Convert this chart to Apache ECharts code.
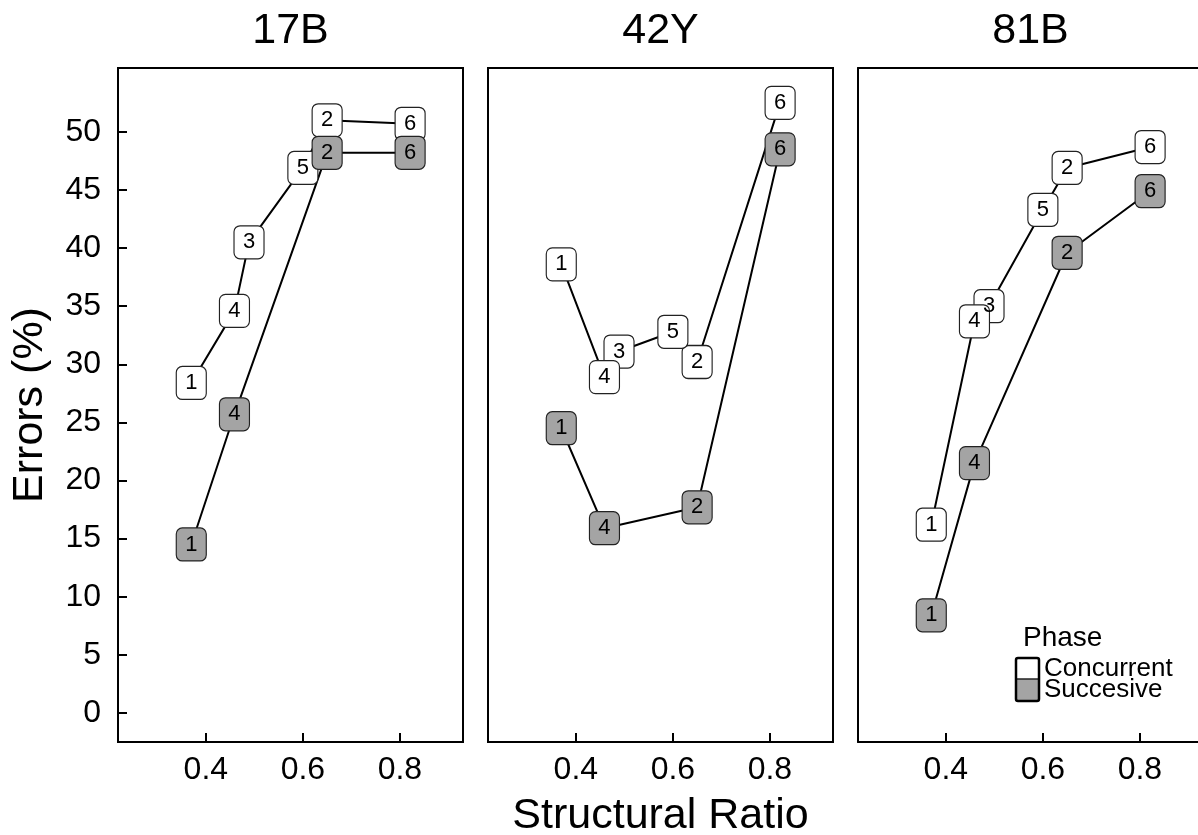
<!DOCTYPE html>
<html>
<head>
    <meta charset="UTF-8">
    <script src="https://cdn.jsdelivr.net/npm/echarts@6/dist/echarts.min.js"></script>
    <style>
        html, body { margin: 0; padding: 0; background: #fff; }
        #container { width: 1198px; height: 835px; }
    </style>
</head>
<body>
<div id="container"></div>

<script type="text/javascript">
    // structural ratio of each phase (phase number -> x)
    var phaseRatio = {1: 0.370, 2: 0.650, 3: 0.489, 4: 0.459, 5: 0.600, 6: 0.821};

    var panels = ['17B', '42Y', '81B'];

    var concurrentPhases = [1, 2, 3, 4, 5, 6];
    var concurrent17B = [28.4, 51.0, 40.5, 34.6, 46.9, 50.7];
    var concurrent42Y = [38.6, 30.2, 31.1, 28.9, 32.8, 52.5];
    var concurrent81B = [16.2, 46.9, 35.0, 33.7, 43.3, 48.7];

    var succesivePhases = [1, 2, 4, 6];
    var succesive17B = [14.5, 48.2, 25.7, 48.2];
    var succesive42Y = [24.5, 17.7, 15.9, 48.5];
    var succesive81B = [8.4, 39.6, 21.5, 44.9];

    var xTicks = [0.4, 0.6, 0.8];
    var yTicks = [0, 5, 10, 15, 20, 25, 30, 35, 40, 45, 50];

    var FONT = '"Liberation Sans", Arial, sans-serif';
    var GREY = '#a4a4a4';
    // rounded box used as the point symbol
    var BOX = 'path://M6,0H24A6,6 0 0 1 30,6V27A6,6 0 0 1 24,33H6A6,6 0 0 1 0,27V6A6,6 0 0 1 6,0Z';

    var concurrentByPanel = [concurrent17B, concurrent42Y, concurrent81B];
    var succesiveByPanel = [succesive17B, succesive42Y, succesive81B];

    var dom = document.getElementById('container');
    var myChart = echarts.init(dom, null, {renderer: 'canvas'});

    var gridLeft = [118, 488, 858];
    var grids = [], xAxes = [], yAxes = [], series = [];

    function points(phases, values) {
        return phases.map(function (p, i) {
            return [phaseRatio[p], values[i], p];
        });
    }

    function boxSeries(k, name, data, fill, z) {
        return {
            type: 'scatter',
            name: name,
            xAxisIndex: k, yAxisIndex: k,
            data: data,
            symbol: BOX,
            symbolSize: [30, 33],
            itemStyle: {color: fill, borderColor: '#222', borderWidth: 1.2, opacity: 1},
            label: {
                show: true,
                position: 'inside',
                formatter: function (p) { return String(p.data[2]); },
                fontFamily: FONT,
                fontSize: 22,
                color: '#000'
            },
            emphasis: {disabled: true},
            z: z
        };
    }

    panels.forEach(function (name, k) {
        // the last panel runs past the right edge, so its frame is drawn by axis lines only
        grids.push({
            left: gridLeft[k], top: 68, width: 345, height: 674,
            outerBoundsMode: 'none',
            show: k < 2, borderColor: '#000', borderWidth: 2
        });
        xAxes.push({
            gridIndex: k,
            type: 'value',
            min: 0.219,
            max: 0.930,
            name: k === 1 ? 'Structural Ratio' : '',
            nameLocation: 'middle',
            nameGap: 53,
            nameTextStyle: {fontFamily: FONT, fontSize: 43, color: '#000'},
            axisLine: {show: true, onZero: false, lineStyle: {color: '#000', width: 2}},
            axisTick: {show: true, inside: true, length: 9, customValues: xTicks,
                lineStyle: {color: '#000', width: 2}},
            axisLabel: {show: true, customValues: xTicks, margin: 12,
                fontFamily: FONT, fontSize: 32, color: '#000',
                formatter: function (v) { return v.toFixed(1); }},
            splitLine: {show: false}
        });
        yAxes.push({
            gridIndex: k,
            type: 'value',
            min: -2.5,
            max: 55.5,
            name: k === 0 ? 'Errors (%)' : '',
            nameLocation: 'middle',
            nameGap: 66,
            nameTextStyle: {fontFamily: FONT, fontSize: 43, color: '#000'},
            axisLine: {show: true, onZero: false, lineStyle: {color: '#000', width: 2}},
            axisTick: {show: k === 0, inside: true, length: 9, customValues: yTicks,
                lineStyle: {color: '#000', width: 2}},
            axisLabel: {show: k === 0, customValues: yTicks, margin: 17,
                fontFamily: FONT, fontSize: 32, color: '#000'},
            splitLine: {show: false}
        });

        var conc = points(concurrentPhases, concurrentByPanel[k]);
        var succ = points(succesivePhases, succesiveByPanel[k]);
        var byX = function (a, b) { return a[0] - b[0]; };

        [conc, succ].forEach(function (pts) {
            series.push({
                type: 'line',
                xAxisIndex: k, yAxisIndex: k,
                data: pts.slice().sort(byX),
                showSymbol: false,
                symbol: 'none',
                lineStyle: {color: '#000', width: 2},
                z: 2,
                silent: true
            });
        });
        series.push(boxSeries(k, 'Concurrent', conc, '#fff', 3));
        series.push(boxSeries(k, 'Succesive', succ, GREY, 4));
    });

    // top edge of the last panel
    xAxes.push({
        gridIndex: 2,
        type: 'value',
        position: 'top',
        min: 0.219,
        max: 0.930,
        axisLine: {show: true, onZero: false, lineStyle: {color: '#000', width: 2}},
        axisTick: {show: false},
        axisLabel: {show: false},
        splitLine: {show: false}
    });

    // panel titles and the phase legend
    var graphics = panels.map(function (name, k) {
        return {
            type: 'text', x: gridLeft[k] + 172.5, y: 31,
            style: {text: name, font: '43px ' + FONT, fill: '#000',
                textAlign: 'center', textVerticalAlign: 'middle'}
        };
    });
    graphics.push(
        {type: 'text', x: 1023, y: 638,
            style: {text: 'Phase', font: '28px ' + FONT, fill: '#000', textVerticalAlign: 'middle'}},
        {type: 'rect', shape: {x: 1016, y: 658, width: 23, height: 21}, style: {fill: '#fff'}},
        {type: 'rect', shape: {x: 1016, y: 679, width: 23, height: 22}, style: {fill: GREY}},
        {type: 'line', shape: {x1: 1016, y1: 679, x2: 1039, y2: 679}, style: {stroke: '#222', lineWidth: 1.5}},
        {type: 'rect', shape: {x: 1016, y: 658, width: 23, height: 43, r: 2},
            style: {fill: 'none', stroke: '#000', lineWidth: 2.5}},
        {type: 'text', x: 1044, y: 669,
            style: {text: 'Concurrent', font: '26px ' + FONT, fill: '#000', textVerticalAlign: 'middle'}},
        {type: 'text', x: 1044, y: 690,
            style: {text: 'Succesive', font: '26px ' + FONT, fill: '#000', textVerticalAlign: 'middle'}}
    );

    var option = {
        animation: false,
        backgroundColor: '#fff',
        grid: grids,
        xAxis: xAxes,
        yAxis: yAxes,
        series: series,
        graphic: graphics
    };

    myChart.setOption(option);
    window.addEventListener('resize', myChart.resize);
</script>
</body>
</html>
